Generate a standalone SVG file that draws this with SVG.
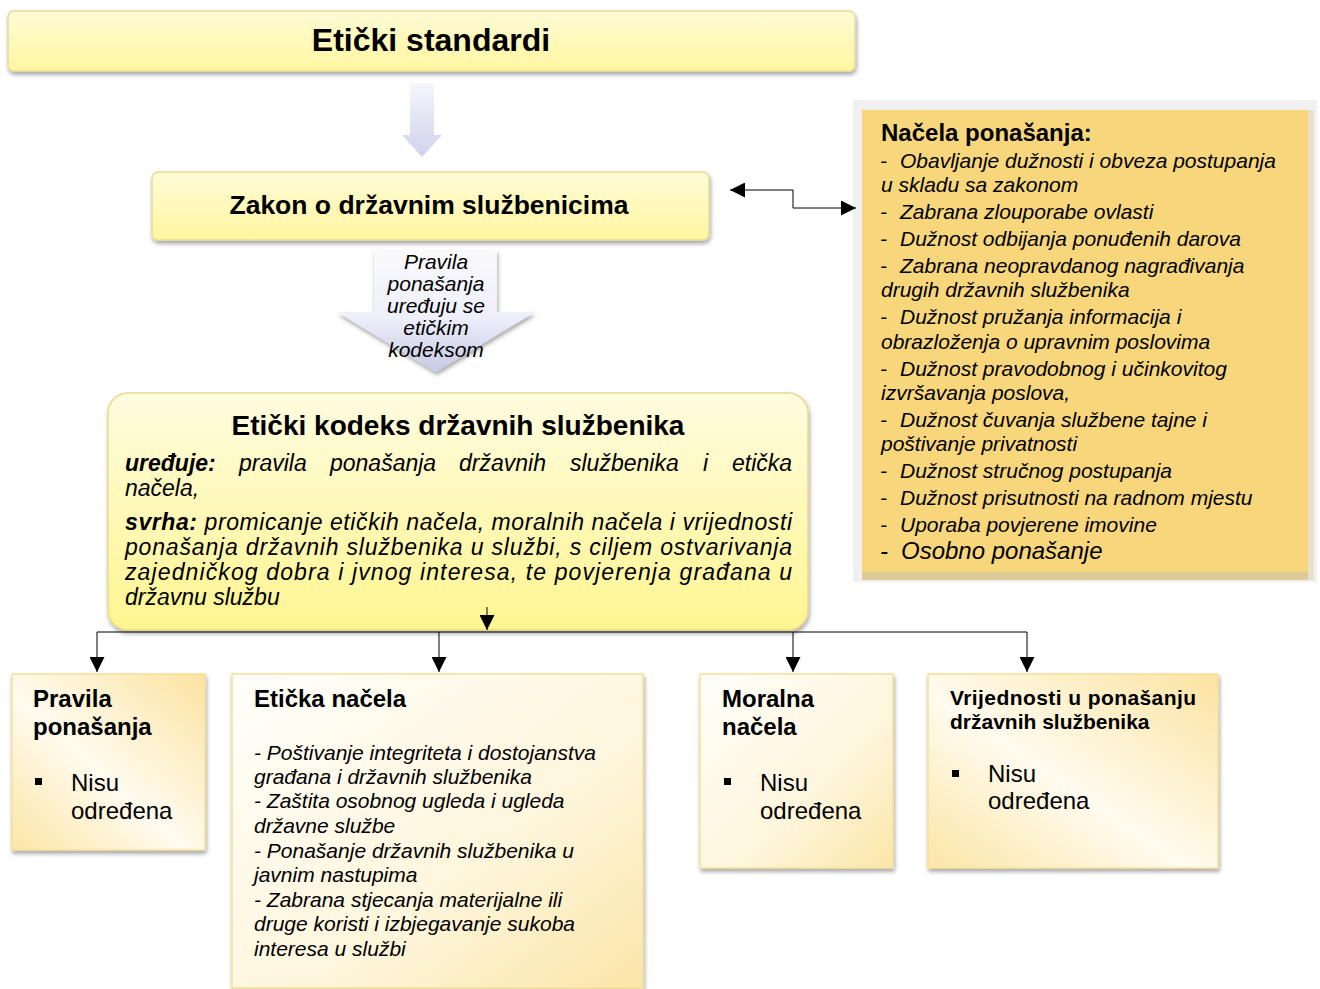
<svg xmlns="http://www.w3.org/2000/svg" width="1320" height="989" viewBox="0 0 1320 989">
<style>
text{font-family:"Liberation Sans",Arial,sans-serif;fill:#000}
.b{font-weight:bold}
.i{font-style:italic}
.conn{fill:none;stroke:#000;stroke-width:1}
</style>
<defs>
<linearGradient id="gY" x1="0" y1="0" x2="0" y2="1"><stop offset="0" stop-color="#fffbd6"/><stop offset="1" stop-color="#fff6a0"/></linearGradient>
<linearGradient id="gK" x1="0" y1="0" x2="0" y2="1"><stop offset="0" stop-color="#fffce0"/><stop offset="1" stop-color="#fff590"/></linearGradient>
<linearGradient id="gB" x1="0" y1="1" x2="1" y2="0"><stop offset="0" stop-color="#fbe6a6"/><stop offset="0.45" stop-color="#fffbef"/><stop offset="1" stop-color="#fbe3a0"/></linearGradient>
<linearGradient id="gE" x1="0" y1="0" x2="1" y2="1"><stop offset="0" stop-color="#fffefa"/><stop offset="0.6" stop-color="#fef6dc"/><stop offset="1" stop-color="#fbe6a8"/></linearGradient>
<linearGradient id="gA" x1="0" y1="0" x2="0" y2="1"><stop offset="0" stop-color="#f6f6fc"/><stop offset="1" stop-color="#cfd2ec"/></linearGradient>
<linearGradient id="gA2" x1="0" y1="0" x2="0" y2="1"><stop offset="0" stop-color="#fafafe"/><stop offset="0.55" stop-color="#eeeff9"/><stop offset="1" stop-color="#c6c9e6"/></linearGradient>
<filter id="sh" x="-5%" y="-10%" width="110%" height="130%"><feDropShadow dx="1" dy="3" stdDeviation="2" flood-color="#000" flood-opacity="0.35"/></filter>
<marker id="ah" viewBox="0 0 10 10" refX="10" refY="5" markerWidth="16" markerHeight="15" markerUnits="userSpaceOnUse" orient="auto"><path d="M0,0 L10,5 L0,10 z" fill="#000"/></marker>
</defs>

<g id="etickistandardi">
<rect x="8" y="11" width="847" height="60" rx="6" fill="url(#gY)" stroke="#e6dc98" stroke-width="1.5" filter="url(#sh)"/>
<text x="431" y="51" class="b" font-size="32" text-anchor="middle">Etički standardi</text>
</g>

<g id="arrow1">
<path d="M410,83 H434 V135 H442 L422,157 L402,135 H410 Z" fill="url(#gA)"/>
</g>

<g id="zakon">
<rect x="152" y="172" width="557" height="68" rx="6" fill="url(#gY)" stroke="#e6dc98" stroke-width="1.5" filter="url(#sh)"/>
<text x="429" y="214" class="b" font-size="26.5" text-anchor="middle">Zakon o državnim službenicima</text>
</g>

<g id="arrow2">
<path d="M374,250 H497 V312 H535 L436,372 L337,312 H374 Z" fill="url(#gA2)" filter="url(#sh)"/>
<g class="i" font-size="21" text-anchor="middle">
<text x="436" y="269">Pravila</text>
<text x="436" y="291">ponašanja</text>
<text x="436" y="313">uređuju se</text>
<text x="436" y="335">etičkim</text>
<text x="436" y="357">kodeksom</text>
</g>
</g>

<g id="nacelaponasanja">
<rect x="853" y="100" width="464" height="482" fill="#f0f0f0"/>
<rect x="862" y="110" width="446" height="462" fill="#f8d77c"/>
<rect x="862" y="572" width="452" height="8" fill="#dccb97"/>
<rect x="1308" y="110" width="6" height="470" fill="#e6e0cc"/>
<text x="881" y="141" class="b" font-size="24">Načela ponašanja:</text>
<g class="i" font-size="21">
<text y="168"><tspan x="880">-</tspan><tspan x="900">Obavljanje dužnosti i obveza postupanja</tspan></text>
<text x="881" y="192">u skladu sa zakonom</text>
<text y="219"><tspan x="880">-</tspan><tspan x="900">Zabrana zlouporabe ovlasti</tspan></text>
<text y="246"><tspan x="880">-</tspan><tspan x="900">Dužnost odbijanja ponuđenih darova</tspan></text>
<text y="273"><tspan x="880">-</tspan><tspan x="900">Zabrana neopravdanog nagrađivanja</tspan></text>
<text x="881" y="297">drugih državnih službenika</text>
<text y="324"><tspan x="880">-</tspan><tspan x="900">Dužnost pružanja informacija i</tspan></text>
<text x="881" y="349">obrazloženja o upravnim poslovima</text>
<text y="376"><tspan x="880">-</tspan><tspan x="900">Dužnost pravodobnog i učinkovitog</tspan></text>
<text x="881" y="400">izvršavanja poslova,</text>
<text y="427"><tspan x="880">-</tspan><tspan x="900">Dužnost čuvanja službene tajne i</tspan></text>
<text x="881" y="451">poštivanje privatnosti</text>
<text y="478"><tspan x="880">-</tspan><tspan x="900">Dužnost stručnog postupanja</tspan></text>
<text y="505"><tspan x="880">-</tspan><tspan x="900">Dužnost prisutnosti na radnom mjestu</tspan></text>
<text y="532"><tspan x="880">-</tspan><tspan x="900">Uporaba povjerene imovine</tspan></text>
<text y="559" font-size="24"><tspan x="880">-</tspan><tspan x="901">Osobno ponašanje</tspan></text>
</g>
</g>

<g id="kodeks">
<rect x="108" y="393" width="700" height="237" rx="20" fill="url(#gK)" stroke="#ecd98a" stroke-width="1.5" filter="url(#sh)"/>
<text x="458" y="435" class="b" font-size="28" text-anchor="middle">Etički kodeks državnih službenika</text>
<g class="i" font-size="23">
<text y="471"><tspan x="125" class="b">uređuje:</tspan><tspan x="239">pravila</tspan><tspan x="330">ponašanja</tspan><tspan x="459">državnih</tspan><tspan x="570">službenika</tspan><tspan x="703">i</tspan><tspan x="732">etička</tspan></text>
<text x="125" y="496">načela,</text>
<text x="125" y="530" textLength="667" lengthAdjust="spacing"><tspan class="b">svrha:</tspan> promicanje etičkih načela, moralnih načela i vrijednosti</text>
<text x="125" y="555" textLength="667" lengthAdjust="spacing">ponašanja državnih službenika u službi, s ciljem ostvarivanja</text>
<text x="125" y="580" textLength="667" lengthAdjust="spacing">zajedničkog dobra i jvnog interesa, te povjerenja građana u</text>
<text x="125" y="605">državnu službu</text>
</g>
</g>

<g id="pravila">
<rect x="12" y="674" width="193" height="176" fill="url(#gB)" stroke="#f6df98" stroke-width="1.5" filter="url(#sh)"/>
<text x="33" y="707" class="b" font-size="24">Pravila</text>
<text x="33" y="735" class="b" font-size="24">ponašanja</text>
<rect x="35" y="778" width="7" height="7" fill="#000"/>
<text x="71" y="791" font-size="24">Nisu</text>
<text x="71" y="819" font-size="24">određena</text>
</g>

<g id="etickanacela">
<rect x="232" y="674" width="411" height="314" fill="url(#gE)" stroke="#f6df98" stroke-width="1.5" filter="url(#sh)"/>
<text x="254" y="707" class="b" font-size="24">Etička načela</text>
<g class="i" font-size="21">
<text x="254" y="760">- Poštivanje integriteta i dostojanstva</text>
<text x="254" y="784">građana i državnih službenika</text>
<text x="254" y="808">- Zaštita osobnog ugleda i ugleda</text>
<text x="254" y="833">državne službe</text>
<text x="254" y="858">- Ponašanje državnih službenika u</text>
<text x="254" y="882">javnim nastupima</text>
<text x="254" y="907">- Zabrana stjecanja materijalne ili</text>
<text x="254" y="931">druge koristi i izbjegavanje sukoba</text>
<text x="254" y="956">interesa u službi</text>
</g>
</g>

<g id="moralna">
<rect x="700" y="674" width="193" height="194" fill="url(#gE)" stroke="#f6df98" stroke-width="1.5" filter="url(#sh)"/>
<text x="722" y="707" class="b" font-size="24">Moralna</text>
<text x="722" y="735" class="b" font-size="24">načela</text>
<rect x="724" y="778" width="7" height="7" fill="#000"/>
<text x="760" y="791" font-size="24">Nisu</text>
<text x="760" y="819" font-size="24">određena</text>
</g>

<g id="vrijednosti">
<rect x="928" y="674" width="290" height="194" fill="url(#gB)" stroke="#f6df98" stroke-width="1.5" filter="url(#sh)"/>
<text x="950" y="705" class="b" font-size="21" textLength="246" lengthAdjust="spacing">Vrijednosti u ponašanju</text>
<text x="950" y="729" class="b" font-size="21">državnih službenika</text>
<rect x="952" y="770" width="7" height="7" fill="#000"/>
<text x="988" y="782" font-size="24">Nisu</text>
<text x="988" y="809" font-size="24">određena</text>
</g>

<g id="connectors">
<path class="conn" d="M487,607 V630" marker-end="url(#ah)"/>
<path class="conn" d="M97,632 H1027"/>
<path class="conn" d="M97,632 V672" marker-end="url(#ah)"/>
<path class="conn" d="M439,632 V672" marker-end="url(#ah)"/>
<path class="conn" d="M793,632 V672" marker-end="url(#ah)"/>
<path class="conn" d="M1027,632 V672" marker-end="url(#ah)"/>
<path class="conn" d="M793,190 H730" marker-end="url(#ah)"/>
<path class="conn" d="M793,190 V208 H856" marker-end="url(#ah)"/>
</g>
</svg>
